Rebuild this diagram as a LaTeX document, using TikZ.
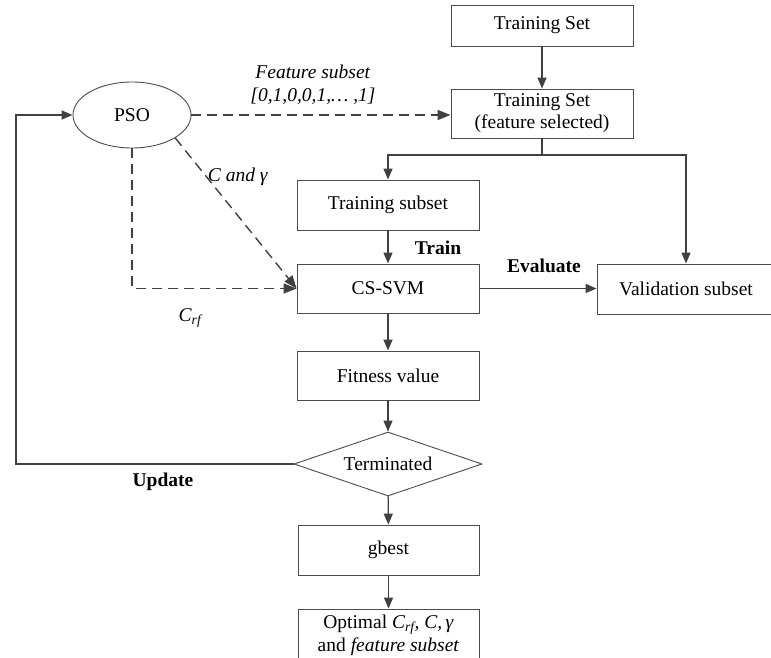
\documentclass[tikz,border=0pt]{standalone}
\usepackage{fontspec}
\setmainfont{Liberation Serif}
\newfontfamily\tnr{Liberation Serif}
\usetikzlibrary{arrows.meta,shapes.geometric}
\begin{document}
\begin{tikzpicture}[x=1pt,y=-1pt,
  every node/.style={font=\tnr\fontsize{19.5}{22}\selectfont},
  box/.style={draw=black!70, line width=0.9pt, rectangle, inner sep=0pt, align=center},
  conn/.style={draw=black!75, line width=1.4pt, -{Triangle[length=11pt,width=9pt]}},
  dconn/.style={draw=black!75, line width=1.4pt, dash pattern=on 10pt off 6pt, -{Triangle[length=13pt,width=10pt]}},
  lbl/.style={inner sep=0pt, align=center},
]
\useasboundingbox (0,0) rectangle (771,658);
% nodes
\node[box, minimum width=182pt, minimum height=41pt] (ts) at (542,25.5) {Training Set};
\node[box, minimum width=182pt, minimum height=49pt] (tsfs) at (542,113.5) {Training Set\\(feature selected)};
\node[box, minimum width=182pt, minimum height=50pt] (trsub) at (388,205) {Training subset};
\node[box, minimum width=182pt, minimum height=49pt] (svm) at (388,288.5) {CS-SVM};
\node[box, minimum width=178pt, minimum height=50pt] (val) at (686,289) {Validation subset};
\node[box, minimum width=182pt, minimum height=49pt] (fit) at (388,375.5) {Fitness value};
\node[draw=black!70, line width=0.9pt, diamond, aspect=2.9, inner sep=0pt, minimum width=188pt, minimum height=64pt] (term) at (388,464) {Terminated};
\node[box, minimum width=181pt, minimum height=50pt] (gb) at (388.5,550) {gbest};
\node[box, minimum width=181pt, minimum height=56pt] (opt) at (388.5,637) {};
\node[lbl] (optt) at (388.5,635) {Optimal \textit{C\textsubscript{rf}, C,\,γ}\\[1pt]and \textit{feature subset}};
\node[draw=black!70, line width=0.9pt, ellipse, minimum width=118pt, minimum height=66pt, inner sep=0pt] (pso) at (132,115) {PSO};
% labels
\node[lbl] (lfs) at (313,85) {\textit{Feature subset}\\[1pt]\textit{[0,1,0,0,1,… ,1]}};
\node[lbl] (lcg) at (238,177) {\textit{C and γ}};
\node[lbl] (lcrf) at (190,318) {\textit{C\textsubscript{rf}}};
\node[lbl] (ltrain) at (438,248) {\textbf{Train}};
\node[lbl] (leval) at (544,266) {\textbf{Evaluate}};
\node[lbl] (lupd) at (163,482) {\textbf{Update}};
% coordinates
\coordinate (br) at (542,155);
\coordinate (ul) at (16,464);
% connectors
\draw[conn] (ts) -- (tsfs);
\draw[draw=black!75, line width=1.4pt] (tsfs.south) -- (br);
\draw[conn] (br) -| (trsub.north);
\draw[conn] (br) -| (val.north);
\draw[conn] (trsub) -- (svm);
\draw[conn] (svm.east) -- (svm.east -| val.west);
\draw[conn] (svm) -- (fit);
\draw[conn] (fit) -- (term);
\draw[conn] (term) -- (gb);
\draw[conn] (gb) -- (opt);
\draw[conn] (term.west) -- (ul) |- (pso.west);
\draw[dconn] (pso.east) -- (pso.east -| tsfs.west);
\draw[dconn] (pso.south) |- (svm.west);
\draw[dconn] (pso.-28) -- (svm.west);
\end{tikzpicture}
\end{document}
